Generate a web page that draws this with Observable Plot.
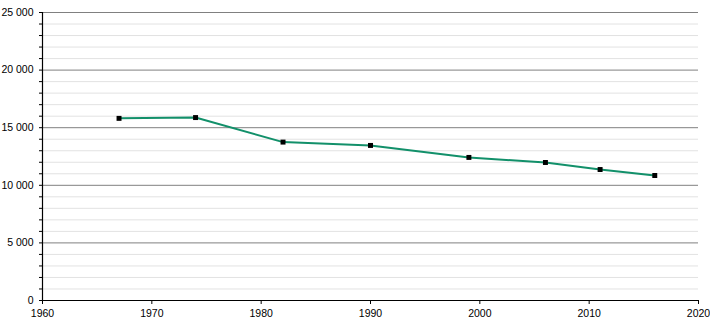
<!DOCTYPE html>
<html>
<head>
<meta charset="utf-8">
<script src="https://cdn.jsdelivr.net/npm/d3@7"></script>
<script src="https://cdn.jsdelivr.net/npm/@observablehq/plot@0.6"></script>
<style>
  html, body { margin: 0; padding: 0; background: #fff; }
</style>
</head>
<body>
<div id="chart"></div>
<script>
const years = [1967, 1974, 1982, 1990, 1999, 2006, 2011, 2016];
const population = [15810, 15880, 13750, 13460, 12420, 11980, 11370, 10850];
const yMajorTicks = [0, 5000, 10000, 15000, 20000, 25000];
const yMinorTicks = d3.range(1000, 25000, 1000).filter(v => v % 5000 !== 0);
const xTicks = [1960, 1970, 1980, 1990, 2000, 2010, 2020];

const data = years.map((y, i) => ({year: y, value: population[i]}));
const fmt = d => d3.format(",")(d).replace(/,/g, " ");

const chart = Plot.plot({
  width: 710,
  height: 320,
  marginLeft: 42,
  marginRight: 12,
  marginTop: 12,
  marginBottom: 20,
  style: {fontFamily: "Liberation Sans, Arial, sans-serif", fontSize: "10.5px", color: "#000", background: "#fff"},
  x: {domain: [1960, 2020]},
  y: {domain: [0, 25000]},
  marks: [
    Plot.ruleY(yMinorTicks, {stroke: "#e2e2e2", strokeWidth: 1}),
    Plot.ruleY(yMajorTicks.filter(v => v > 0), {stroke: "#808080", strokeWidth: 1}),
    Plot.axisY({ticks: yMinorTicks, tickSize: 3, tickFormat: null, text: null, label: null, stroke: "#000"}),
    Plot.axisY({ticks: yMajorTicks, tickSize: 3, tickPadding: 6, tickFormat: fmt, label: null, stroke: "#000"}),
    Plot.axisX({ticks: xTicks, tickSize: 4, tickPadding: 5, tickFormat: d => String(d), label: null, stroke: "#000"}),
    Plot.ruleX([1960], {stroke: "#000", strokeWidth: 1.2}),
    Plot.ruleY([0], {stroke: "#000", strokeWidth: 1.2}),
    Plot.line(data, {x: "year", y: "value", stroke: "#12906a", strokeWidth: 2}),
    Plot.dot(data, {x: "year", y: "value", symbol: "square", r: 2.8, fill: "#000", stroke: "none"})
  ]
});
document.getElementById("chart").appendChild(chart);
</script>
</body>
</html>
